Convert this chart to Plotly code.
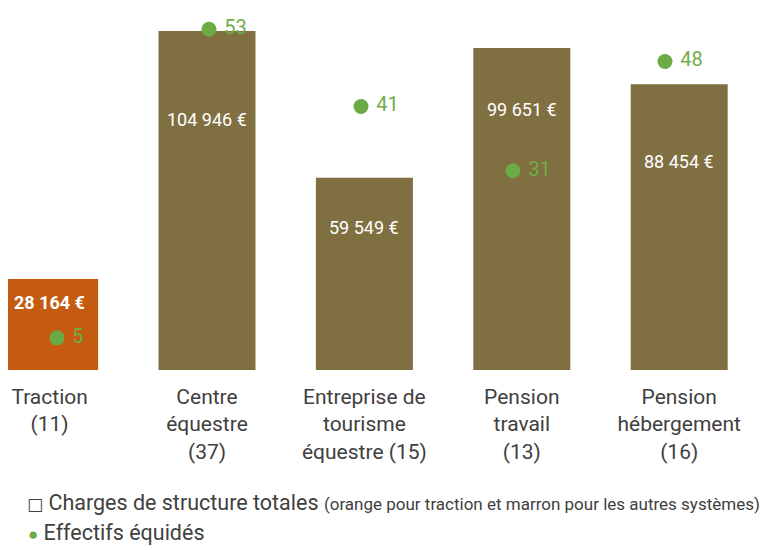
import plotly.graph_objects as go

# categories and values
systems = ["Traction", "Centre équestre", "Entreprise de tourisme équestre",
           "Pension travail", "Pension hébergement"]
tick_labels = ["Traction<br>(11)", "Centre<br>équestre<br>(37)",
               "Entreprise de<br>tourisme<br>équestre (15)",
               "Pension<br>travail<br>(13)", "Pension<br>hébergement<br>(16)"]
charges = [28164, 104946, 59549, 99651, 88454]
effectifs = [5, 53, 41, 31, 48]

ORANGE = "#C55A11"
BROWN = "#7F6F41"
GREEN = "#6AAB45"
GREEN_TXT = "#70AD47"
GREY = "#404040"
FONT = "Roboto, sans-serif"

bar_colors = [ORANGE if s == "Traction" else BROWN for s in systems]

# page body has an 8px margin, so the figure is drawn a bit smaller
W, H = 760, 542
STEP = 157.4  # px per category for the bars


def euro(v):
    return f"{v:,}".replace(",", " ") + " €"


fig = go.Figure()
fig.add_bar(
    x=systems, y=charges, width=97 / STEP,
    marker=dict(color=bar_colors, line=dict(width=0)),
    hoverinfo="skip", showlegend=False,
)
fig.add_scatter(
    x=systems, y=effectifs, xaxis="x2", yaxis="y2",
    mode="markers+text",
    text=[" " + str(v) for v in effectifs],
    textposition="middle right",
    textfont=dict(color=GREEN_TXT, size=20, family=FONT),
    marker=dict(color=GREEN, size=15),
    showlegend=False,
)

# euro labels inside the bars (fraction of bar height)
label_frac = [0.74, 0.74, 0.74, 0.81, 0.73]
for i, (s, v) in enumerate(zip(systems, charges)):
    txt = euro(v)
    if s == "Traction":
        txt = "<b>" + txt + "</b>"
    fig.add_annotation(
        x=s, y=v * label_frac[i], xref="x", yref="y", text=txt,
        showarrow=False, font=dict(color="white", size=18, family=FONT),
    )

# hand-made legend
fig.add_annotation(
    x=17 / W, y=-0.3667, xref="paper", yref="paper", xanchor="left", yanchor="middle",
    text="<span style='font-family:DejaVu Sans;font-size:17px'>□</span> Charges de structure totales "
         "<span style='font-size:17px'>(orange pour traction et marron pour les autres systèmes)</span>",
    showarrow=False, font=dict(color=GREY, size=21.5, family=FONT),
)
fig.add_annotation(
    x=18 / W, y=-0.45, xref="paper", yref="paper", xanchor="left", yanchor="middle",
    text=f"<span style='color:{GREEN};font-size:17px'>●</span> Effectifs équidés",
    showarrow=False, font=dict(color=GREY, size=21.5, family=FONT),
)

fig.update_layout(
    width=W, height=H,
    margin=dict(l=0, r=0, t=2, b=180),
    plot_bgcolor="white", paper_bgcolor="white",
    xaxis=dict(
        range=[-41.6 / STEP, (W - 41.6) / STEP],
        tickmode="array", tickvals=systems, ticktext=tick_labels,
        tickfont=dict(color=GREY, size=21, family=FONT),
        showline=False, showgrid=False, zeroline=False,
        ticks="", ticklabelstandoff=12, automargin=False,
    ),
    xaxis2=dict(
        overlaying="x", range=[-49 / 152, (W - 49) / 152],
        visible=False, categoryorder="array", categoryarray=systems,
    ),
    yaxis=dict(range=[0, 111450], visible=False, showgrid=False),
    yaxis2=dict(range=[0, 56], overlaying="y", visible=False, showgrid=False),
)

fig.write_html("out.html")
